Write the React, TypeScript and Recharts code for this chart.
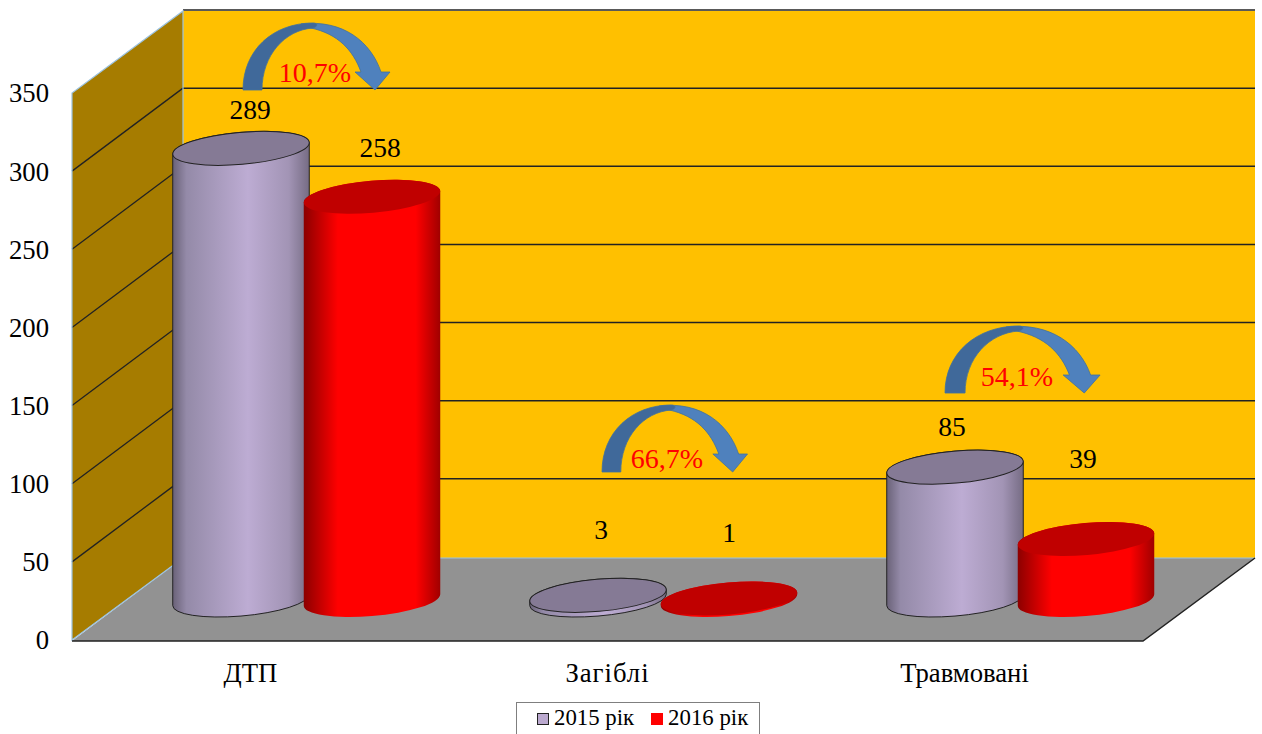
import React from "react";
import { ComposedChart, Bar, XAxis, YAxis, Legend, LabelList } from "recharts";

const categories = ["ДТП", "Загіблі", "Травмовані"];
const values2015 = [289, 3, 85];
const values2016 = [258, 1, 39];
const yTicks = [0, 50, 100, 150, 200, 250, 300, 350];
const changes = ["10,7%", "66,7%", "54,1%"];
const seriesNames = ["2015 рік", "2016 рік"];

const chartData = categories.map((name, i) => ({
  name,
  y2015: values2015[i],
  y2016: values2016[i],
}));

// Chart geometry / style (kept apart from the data)
const W = 1262;
const H = 734;
const LEFT = 72;
const RIGHT = 1143;
const TOP = 93;
const BOTTOM = 640;
const DEPTH_X = 111;
const DEPTH_Y = 82;
const BAR_DX = 56;
const BAR_DY = 40;
const FONT = '"Liberation Serif", "Times New Roman", serif';
const FS = 26.7;
const yPos = (v: number) => BOTTOM - (v / 350) * (BOTTOM - TOP);

const labelShift2015 = [[9, -39], [3, -66], [-3, -41]];
const labelShift2016 = [[8, -49], [0, -66], [-3, -81]];
const tickSpacing = [0, 1, 0];
const arrowPlace = [
  { x: 243, y: 90, sx: 1, tx: 315, ty: 72 },
  { x: 602, y: 472, sx: 0.99, tx: 667, ty: 458 },
  { x: 945, y: 393, sx: 1.055, tx: 1017, ty: 376 },
];

function Backdrop() {
  const wall = `${LEFT},${BOTTOM} ${LEFT},${TOP} ${LEFT + DEPTH_X},${TOP - DEPTH_Y} ${LEFT + DEPTH_X},${BOTTOM - DEPTH_Y}`;
  const back = `${LEFT + DEPTH_X},${TOP - DEPTH_Y} ${RIGHT + DEPTH_X + 1},${TOP - DEPTH_Y} ${RIGHT + DEPTH_X + 1},${BOTTOM - DEPTH_Y} ${LEFT + DEPTH_X},${BOTTOM - DEPTH_Y}`;
  const floor = `${LEFT},${BOTTOM + 1} ${RIGHT},${BOTTOM + 1} ${RIGHT + DEPTH_X + 1},${BOTTOM - DEPTH_Y} ${LEFT + DEPTH_X},${BOTTOM - DEPTH_Y}`;
  return (
    <g>
      <polygon points={back} fill="#FFC000" />
      <polygon points={wall} fill="#A67C00" />
      <polygon points={floor} fill="#929292" />
      {yTicks.slice(1).map((v) => {
        const y = yPos(v);
        return (
          <g key={v}>
            <line x1={LEFT + DEPTH_X} x2={RIGHT + DEPTH_X + 1} y1={y - DEPTH_Y - 1} y2={y - DEPTH_Y - 1} stroke="#222" strokeWidth={1.5} />
            {v < 350 && <line x1={LEFT} x2={LEFT + DEPTH_X} y1={y} y2={y - DEPTH_Y - 1} stroke="#222" strokeWidth={1.3} />}
          </g>
        );
      })}
      <polyline
        points={`${LEFT + DEPTH_X},${BOTTOM - DEPTH_Y} ${LEFT},${BOTTOM} ${LEFT},${TOP} ${LEFT + DEPTH_X},${TOP - DEPTH_Y} ${LEFT + DEPTH_X},${BOTTOM - DEPTH_Y} ${RIGHT + DEPTH_X + 1},${BOTTOM - DEPTH_Y}`}
        fill="none"
        stroke="#9CC3E0"
        strokeWidth={1.2}
      />
      <polyline
        points={`${LEFT},${BOTTOM + 1} ${RIGHT},${BOTTOM + 1} ${RIGHT + DEPTH_X + 1},${BOTTOM - DEPTH_Y}`}
        fill="none"
        stroke="#222"
        strokeWidth={1.5}
      />
    </g>
  );
}

function makeCylinder(gradId: string, topFill: string, edge: string) {
  return function Cylinder(p: any) {
    const rx = p.width / 2 - 0.5;
    const ry = 16;
    const angle = (5 * Math.PI) / 180;
    const c = Math.cos(angle);
    const s = Math.sin(angle);
    const wx = Math.sqrt(rx * rx * c * c + ry * ry * s * s);
    const wy = ((rx * rx - ry * ry) * s * c) / wx;
    const cx = p.x + p.width / 2 + BAR_DX;
    const topY = p.y - BAR_DY;
    const botY = p.y + p.height - BAR_DY;
    const body = `M${cx - wx},${topY + wy} L${cx - wx},${botY + wy} A${rx},${ry} -5 0 0 ${cx + wx},${botY - wy} L${cx + wx},${topY - wy} A${rx},${ry} -5 0 0 ${cx - wx},${topY + wy} Z`;
    return (
      <g>
        <path d={body} fill={`url(#${gradId})`} stroke={edge} strokeWidth={1} />
        <ellipse cx={cx} cy={topY} rx={rx} ry={ry} transform={`rotate(-5 ${cx} ${topY})`} fill={topFill} stroke={edge} strokeWidth={1} />
      </g>
    );
  };
}

const makeLabel = (shifts: number[][]) =>
  function ValueLabel(p: any) {
    const [dx, dy] = shifts[p.index];
    const vb = p.viewBox || p;
    return (
      <text
        x={vb.x + vb.width / 2 + BAR_DX + dx}
        y={vb.y - BAR_DY + dy}
        textAnchor="middle"
        dominantBaseline="central"
        fontFamily={FONT}
        fontSize={27.5}
        fill="#000"
      >
        {p.value}
      </text>
    );
  };

function CategoryTick(p: any) {
  return (
    <text
      x={p.x}
      y={p.y + 18}
      textAnchor="middle"
      fontFamily={FONT}
      fontSize={FS}
      fill="#000"
      letterSpacing={tickSpacing[p.index]}
    >
      {p.payload.value}
    </text>
  );
}

function Arrow({ place, label }: { place: (typeof arrowPlace)[number]; label: string }) {
  return (
    <g>
      <g transform={`translate(${place.x} ${place.y}) scale(${place.sx} 1)`}>
        <path
          d="M58,-66 C100,-71 128,-48 138,-18 L147,-18 L132,0 L112,-18 L118,-18 C110,-40 95,-56 68,-62 Z"
          fill="#4F81BD"
          stroke="#41719C"
          strokeWidth={0.8}
        />
        <path
          d="M0,0 C0,-40 30,-67 70,-67 C74,-67 76,-64 70,-62 C42,-60 19,-35 19,0 Z"
          fill="#40699A"
          stroke="#41719C"
          strokeWidth={0.8}
        />
      </g>
      <text x={place.tx} y={place.ty} textAnchor="middle" dominantBaseline="central" fontFamily={FONT} fontSize={28} fill="#FF0000">
        {label}
      </text>
    </g>
  );
}

function LegendBox({ payload }: any) {
  return (
    <div
      style={{
        boxSizing: "border-box",
        width: 244,
        height: 44,
        border: "1px solid #7f7f7f",
        background: "#fff",
        fontFamily: FONT,
        fontSize: 22.8,
        color: "#000",
        paddingLeft: 20,
        paddingTop: 0,
        display: "flex",
        lineHeight: "30px",
      }}
    >
      {(payload || []).map((e: any, i: number) => (
        <div key={e.value} style={{ display: "flex", alignItems: "flex-start", marginRight: 17 }}>
          <span
            style={{
              boxSizing: "border-box",
              width: 12,
              height: 12,
              marginTop: 10,
              marginRight: 5,
              background: e.color,
              border: i === 0 ? "1.5px solid #222" : "none",
            }}
          />
          <span style={{ whiteSpace: "nowrap" }}>{e.value}</span>
        </div>
      ))}
    </div>
  );
}

const tickStyle = { fontSize: FS, fontFamily: FONT, fill: "#000" };

export default function App() {
  return (
    <div style={{ position: "fixed", left: 0, top: 0, width: W, height: H, overflow: "hidden", background: "#fff" }}>
      <ComposedChart
        width={W}
        height={H}
        data={chartData}
        margin={{ top: TOP, left: 0, right: W - RIGHT, bottom: 34 }}
        barSize={138}
        barGap={-7}
      >
        <defs>
          <linearGradient id="cyl2015" x1="0" x2="1" y1="0" y2="0">
            <stop offset="0" stopColor="#6A6278" />
            <stop offset="0.1" stopColor="#948AA8" />
            <stop offset="0.55" stopColor="#BDACD3" />
            <stop offset="0.85" stopColor="#A294B5" />
            <stop offset="1" stopColor="#766C84" />
          </linearGradient>
          <linearGradient id="cyl2016" x1="0" x2="1" y1="0" y2="0">
            <stop offset="0" stopColor="#8C0000" />
            <stop offset="0.25" stopColor="#FF0000" />
            <stop offset="0.82" stopColor="#FF0000" />
            <stop offset="1" stopColor="#A00000" />
          </linearGradient>
        </defs>
        <Backdrop />
        <XAxis dataKey="name" axisLine={false} tickLine={false} height={60} tick={<CategoryTick />} interval={0} tickMargin={18} />
        <YAxis
          domain={[0, 350]}
          ticks={yTicks}
          width={LEFT}
          axisLine={false}
          tickLine={false}
          tickMargin={17}
          tick={tickStyle}
          interval={0}
        />
        <Bar
          dataKey="y2015"
          name={seriesNames[0]}
          fill="#BBA9CF"
          isAnimationActive={false}
          shape={makeCylinder("cyl2015", "#857A95", "#222")}
        >
          <LabelList dataKey="y2015" content={makeLabel(labelShift2015)} />
        </Bar>
        <Bar
          dataKey="y2016"
          name={seriesNames[1]}
          fill="#FF0000"
          isAnimationActive={false}
          shape={makeCylinder("cyl2016", "#C00000", "none")}
        >
          <LabelList dataKey="y2016" content={makeLabel(labelShift2016)} />
        </Bar>
        {changes.map((c, i) => (
          <Arrow key={c} place={arrowPlace[i]} label={c} />
        ))}
        <Legend
          layout="vertical"
          align="center"
          verticalAlign="middle"
          content={<LegendBox />}
          wrapperStyle={{ left: 516, top: 702, right: "auto", bottom: "auto", width: 244, margin: 0 }}
        />
      </ComposedChart>
    </div>
  );
}
